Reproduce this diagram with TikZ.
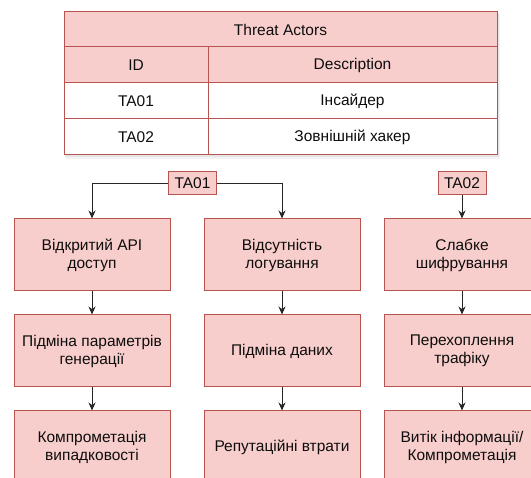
\documentclass[tikz,border=0pt]{standalone}
\usepackage{fontspec}
\setmainfont{Liberation Sans}
\usetikzlibrary{arrows.meta}
\definecolor{boxfill}{HTML}{F8CECC}
\definecolor{boxline}{HTML}{B85450}

\begin{document}
\begin{tikzpicture}[x=1pt,y=-1pt,
  txt/.style={font=\fontsize{15.5}{18}\selectfont,text=black!95},
  box/.style={txt,draw=boxline,fill=boxfill,line width=1pt,minimum width=156pt,minimum height=72pt,align=center,inner sep=0pt},
  tag/.style={txt,draw=boxline,fill=boxfill,line width=1pt,minimum width=48pt,minimum height=23pt,inner sep=0pt},
  link/.style={draw=black!85,line width=1pt,-{Stealth[length=8pt,width=7pt]}}]
\useasboundingbox (0,0) rectangle (531,478);
\clip (0,0) rectangle (531,478);

% table with shadow
\fill[black!5] (66,15) rectangle (500,159);
\fill[black!10] (65,14) rectangle (499,157);
\fill[white] (64,12) rectangle (497,155);
\fill[boxfill] (64,12) rectangle (497,83);
\draw[boxline,line width=1pt] (64,12) rectangle (497,155);
\draw[boxline,line width=1pt] (64,47) -- (497,47);
\draw[boxline,line width=1pt] (64,83) -- (497,83);
\draw[boxline,line width=1pt] (64,119) -- (497,119);
\draw[boxline,line width=1pt] (208,47) -- (208,155);

\node[txt] (title) at (280.5,29.5) {Threat Actors};
\node[txt] (idhead) at (136,65) {ID};
\node[txt] (deschead) at (352.5,65) {Description};
\node[txt] (id1) at (136,101) {TA01};
\node[txt] (desc1) at (352.5,101) {Інсайдер};
\node[txt] (id2) at (136,137) {TA02};
\node[txt] (desc2) at (352.5,137) {Зовнішній хакер};

% actors
\node[tag] (ta01) at (192.5,183.5) {TA01};
\node[tag] (ta02) at (462,183.5) {TA02};

% chains
\node[box] (api) at (92,255) {Відкритий API\\доступ};
\node[box] (param) at (92,351) {Підміна параметрів\\генерації};
\node[box] (rand) at (92,447) {Компрометація\\випадковості};

\node[box] (nolog) at (282,255) {Відсутність\\логування};
\node[box] (data) at (282,351) {Підміна даних};
\node[box] (rep) at (282,447) {Репутаційні втрати};

\node[box] (weak) at (462,255) {Слабке\\шифрування};
\node[box] (sniff) at (462,351) {Перехоплення\\трафіку};
\node[box] (leak) at (462,447) {Витік інформації/\\Компрометація};

\draw[link] (ta01.west) -| (api.north);
\draw[link] (ta01.east) -| (nolog.north);
\draw[link] (ta02) -- (weak);
\draw[link] (api) -- (param);
\draw[link] (param) -- (rand);
\draw[link] (nolog) -- (data);
\draw[link] (data) -- (rep);
\draw[link] (weak) -- (sniff);
\draw[link] (sniff) -- (leak);
\end{tikzpicture}
\end{document}
